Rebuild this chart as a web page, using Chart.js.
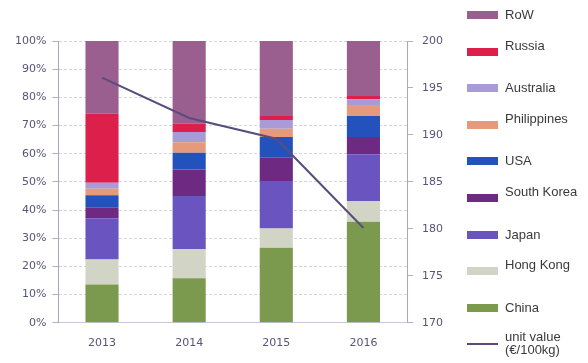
<!DOCTYPE html>
<html>
<head>
<meta charset="utf-8">
<script src="https://cdn.jsdelivr.net/npm/chart.js@4"></script>
<style>
  body { margin: 0; background: #fff; }
  #wrap { position: relative; width: 588px; height: 363px; }
  #legend { position: absolute; left: 467px; top: 0; font-family: "Liberation Sans", Arial, sans-serif; font-size: 13px; color: #3a3a3a; }
  .item { position: absolute; left: 0; width: 130px; height: 20px; }
  .box { position: absolute; left: 0; width: 31px; height: 8px; }
  .txt { position: absolute; left: 38px; white-space: nowrap; line-height: 13px; }
</style>
</head>
<body>
<div id="wrap">
  <canvas id="chart" width="588" height="363"></canvas>
  <div id="legend"></div>
</div>
<script>
const years = ['2013', '2014', '2015', '2016'];

// shares in %, bottom to top
const china       = [13.6, 15.8, 26.6, 35.9];
const hongKong    = [8.9, 10.3, 6.9, 7.3];
const japan       = [14.6, 18.9, 16.8, 16.6];
const southKorea  = [3.7, 9.4, 8.3, 6.1];
const usa         = [4.5, 5.9, 7.3, 7.5];
const philippines = [2.3, 3.8, 3.0, 3.9];
const australia   = [2.1, 3.6, 3.1, 2.0];
const russia      = [24.5, 2.9, 1.4, 1.2];
const row         = [25.8, 29.4, 26.6, 19.5];

// unit value, euro per 100kg
const unitValue = [196.1, 191.8, 189.6, 180.1];

const series = [
  { label: 'China', data: china, color: '#7c9a4e' },
  { label: 'Hong Kong', data: hongKong, color: '#d2d5c6' },
  { label: 'Japan', data: japan, color: '#6a55c0' },
  { label: 'South Korea', data: southKorea, color: '#6e2a82' },
  { label: 'USA', data: usa, color: '#2452bd' },
  { label: 'Philippines', data: philippines, color: '#e59a7c' },
  { label: 'Australia', data: australia, color: '#a99ad8' },
  { label: 'Russia', data: russia, color: '#dd1f4c' },
  { label: 'RoW', data: row, color: '#9a5f8e' },
];
const lineColor = '#5a4d7e';

const datasets = series.map((s) => ({
  type: 'bar',
  label: s.label,
  data: s.data,
  backgroundColor: s.color,
  borderWidth: 0,
  barPercentage: 0.38,
  categoryPercentage: 1,
  yAxisID: 'y',
  order: 2,
}));
datasets.push({
  type: 'line',
  label: 'unit value (€/100kg)',
  data: unitValue,
  borderColor: lineColor,
  borderWidth: 2,
  pointRadius: 0,
  tension: 0,
  yAxisID: 'y1',
  order: 1,
});

const tickFont = { family: 'DejaVu Sans', size: 11 };
const tickColor = '#55557a';

new Chart(document.getElementById('chart'), {
  data: { labels: years, datasets: datasets },
  options: {
    responsive: false,
    animation: false,
    layout: { padding: { top: 41, right: 136, left: 9, bottom: 7 } },
    plugins: { legend: { display: false }, tooltip: { enabled: false } },
    scales: {
      x: {
        stacked: true,
        grid: { display: false },
        border: { color: '#c8c8d8' },
        ticks: { font: tickFont, color: tickColor, padding: 6 },
      },
      y: {
        stacked: true,
        min: 0,
        max: 100,
        ticks: {
          stepSize: 10,
          font: tickFont,
          color: tickColor,
          padding: 6,
          callback: (v) => v + '%',
        },
        grid: { color: '#d4d4dc', tickLength: 6, tickColor: '#b0b0c4' },
        border: { color: '#a8a8bc', dash: [3, 2] },
      },
      y1: {
        position: 'right',
        min: 170,
        max: 200,
        ticks: { stepSize: 5, font: tickFont, color: tickColor, padding: 9 },
        grid: { drawOnChartArea: false, tickLength: 6, tickColor: '#b0b0c4' },
        border: { color: '#a8a8bc' },
      },
    },
  },
});

// legend, top to bottom
const legend = document.getElementById('legend');
const items = series.slice().reverse();
items.forEach((s, i) => {
  const el = document.createElement('div');
  el.className = 'item';
  el.style.top = (11 + i * 36.6) + 'px';
  const shift = i % 2 === 1 ? -6 : 0;
  el.innerHTML = '<div class="box" style="background:' + s.color + ';top:0px"></div>' +
    '<div class="txt" style="top:' + (shift - 3) + 'px">' + s.label + '</div>';
  legend.appendChild(el);
});
const lineItem = document.createElement('div');
lineItem.className = 'item';
lineItem.style.top = (11 + items.length * 36.6) + 'px';
lineItem.innerHTML = '<div class="box" style="height:2px;top:3px;background:' + lineColor + '"></div>' +
  '<div class="txt" style="top:-10px">unit value<br>(€/100kg)</div>';
legend.appendChild(lineItem);
</script>
</body>
</html>
